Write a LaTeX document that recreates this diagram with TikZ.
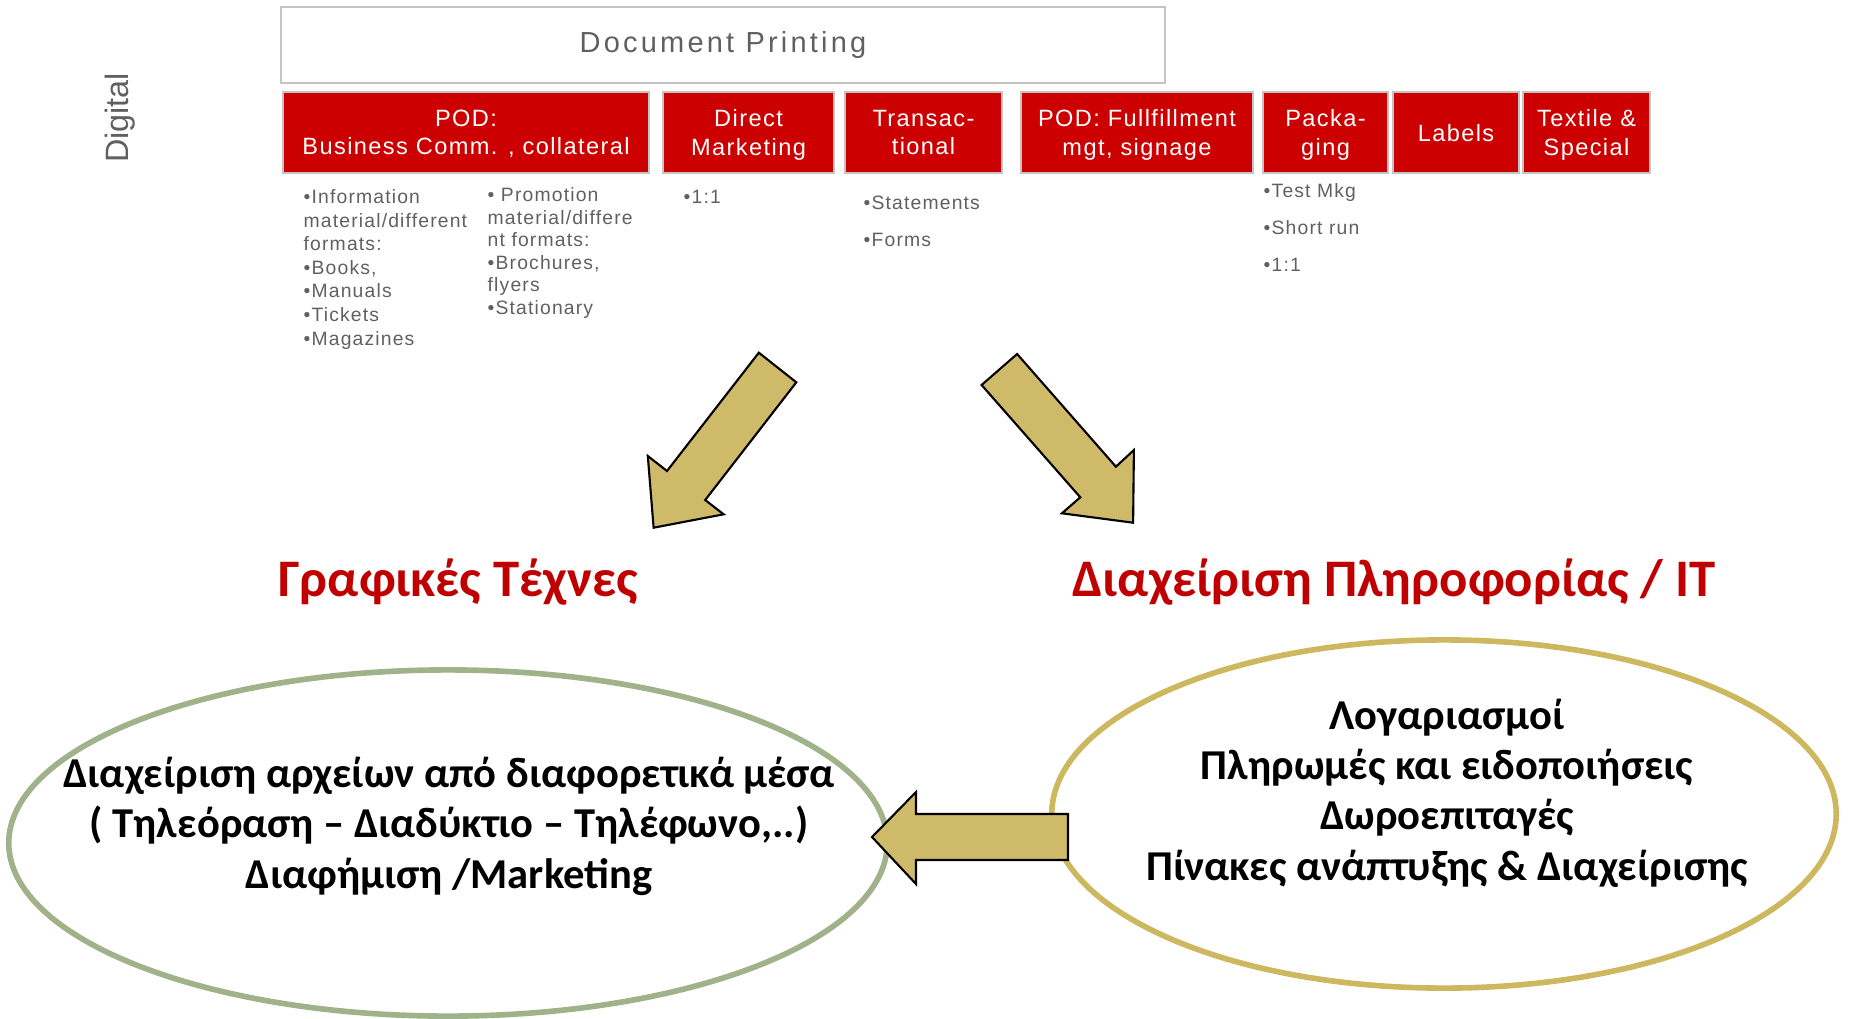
\documentclass[tikz,border=0pt]{standalone}
\usepackage{fontspec}
\setmainfont{Liberation Sans}
\newfontfamily\arialsp[LetterSpace=6]{Liberation Sans}
\newfontfamily\docfont[LetterSpace=11]{Liberation Sans}
\newfontfamily\calib{Carlito}
\usepackage{tikz}
\usetikzlibrary{shapes.geometric}

\definecolor{podred}{HTML}{CC0000}
\definecolor{headred}{HTML}{C00000}
\definecolor{txtgray}{HTML}{606060}
\definecolor{framegray}{HTML}{C4C4C4}
\definecolor{khaki}{HTML}{CFBA69}
\definecolor{sagegreen}{HTML}{A0B28A}
\definecolor{oldgold}{HTML}{CDB860}

\tikzset{
  redbox/.style={fill=podred, draw=framegray, line width=0.4pt, text=white,
    align=center, minimum height=0.81cm, inner sep=0pt, text depth=0pt,
    font=\arialsp\fontsize{6.7}{8}\selectfont},
  itemlist/.style={anchor=base west, align=left, inner sep=0pt, text=txtgray,
    font=\arialsp\fontsize{5.5}{#1}\selectfont},
  itemlist/.default=6.7,
  blockarrow/.style={fill=khaki, draw=black, line width=0.6pt, line join=miter},
  heading/.style={anchor=base, text=headred, font=\calib\bfseries\fontsize{15}{18}\selectfont},
  bubble/.style={ellipse, draw=#1, line width=1.6pt, fill=white, inner sep=0pt},
  bubbletext/.style={anchor=base, align=center, font=\calib\bfseries\fontsize{12.1}{14.3}\selectfont}
}

\begin{document}
\begin{tikzpicture}[x=0.01cm, y=-0.01cm]
\useasboundingbox (0,0) rectangle (1849,1018);

% top
\node[draw=framegray, line width=0.6pt, minimum width=8.84cm, minimum height=0.76cm,
  text=txtgray, font=\docfont\fontsize{8.25}{10}\selectfont] (docprint) at (723,45) {Document Printing};
\node[rotate=90, text=txtgray, font=\fontsize{9.2}{10}\selectfont] (digital) at (120,118) {Digital};

% segments
\node[redbox, minimum width=3.66cm] (podbiz) at (466,132.5) {POD:\\Business Comm. , collateral};
\node[redbox, minimum width=1.71cm] (directmkt) at (748.5,132.5) {Direct\\Marketing};
\node[redbox, minimum width=1.57cm] (transac) at (923.5,132.5) {Transac-\\tional};
\node[redbox, minimum width=2.32cm] (podfull) at (1137,132.5) {POD: Fullfillment\\mgt, signage};
\node[redbox, minimum width=1.25cm] (packaging) at (1325.5,132.5) {Packa-\\ging};
\node[redbox, minimum width=1.26cm] (labels) at (1456,132.5) {Labels};
\node[redbox, minimum width=1.27cm] (textile) at (1586.5,132.5) {Textile \&\\Special};

% bullet lists (placed by the baseline of their last line)
\node[itemlist] (infolist) at (303,345) {•Information\\material/different\\formats:\\•Books,\\•Manuals\\•Tickets\\•Magazines};
\node[itemlist=6.4] (promolist) at (487,314.5) {• Promotion\\material/differe\\nt formats:\\•Brochures,\\flyers\\•Stationary};
\node[itemlist] (dmlist) at (683,203) {•1:1};
\node[itemlist=10.5] (translist) at (863,246) {•Statements\\•Forms};
\node[itemlist=10.4] (packlist) at (1263,271) {•Test Mkg\\•Short run\\•1:1};

% arrows down
\draw[blockarrow] (758.8,352.7) -- (796.3,382.3) -- (705.2,500) -- (723.6,514.3)
  -- (653.6,527.7) -- (647.8,456) -- (667,471) -- cycle;
\draw[blockarrow] (1017.1,354) -- (1115.9,466.7) -- (1133.9,450) -- (1133.1,522.7)
  -- (1061.9,513.3) -- (1080.3,497.3) -- (981.6,385) -- cycle;

% headings
\node[heading] (graphic) at (458,596) {Γραφικές Τέχνες};
\node[heading] (infomgmt) at (1394,596) {Διαχείριση Πληροφορίας / IT};

% ellipses
\node[bubble=sagegreen, minimum width=8.78cm, minimum height=3.46cm] (media) at (448,843) {};
\node[bubble=oldgold, minimum width=7.84cm, minimum height=3.48cm] (billing) at (1444,814) {};
\node[bubbletext] (mediatext) at (449,888) {Διαχείριση αρχείων από διαφορετικά μέσα\\( Τηλεόραση – Διαδύκτιο – Τηλέφωνο,..)\\Διαφήμιση /Marketing};
\node[bubbletext] (billingtext) at (1447,880) {Λογαριασμοί\\Πληρωμές και ειδοποιήσεις\\Δωροεπιταγές\\Πίνακες ανάπτυξης \& Διαχείρισης};

% arrow between
\draw[blockarrow] (1068,814) -- (916,814) -- (916,792) -- (872,837) -- (916,884)
  -- (916,860) -- (1068,860) -- cycle;
\end{tikzpicture}
\end{document}
